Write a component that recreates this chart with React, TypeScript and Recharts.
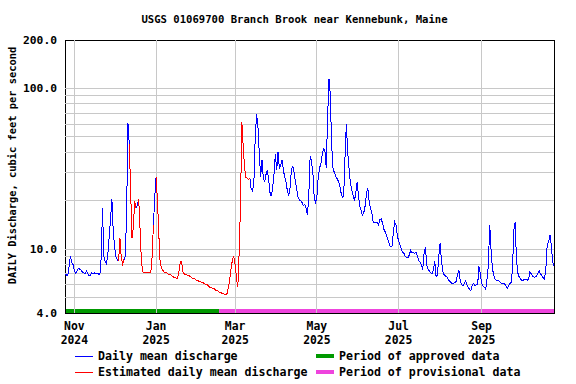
import React from 'react';
import { LineChart, Line, XAxis, YAxis, ReferenceLine, ReferenceArea } from 'recharts';

// daily mean discharge, cfs, day 0 = Oct 25 2024
const dischargeCfs = [
  7.0, 6.9, 6.8, 7.7, 9.1, 8.2, 8.0, 7.3, 7.1, 7.3,
  7.6, 7.5, 7.4, 7.2, 7.1, 7.0, 7.3, 7.0, 6.8, 6.9,
  7.1, 7.0, 7.1, 7.0, 7.1, 7.0, 6.9, 8.8, 18, 9.0,
  8.3, 8.1, 9.3, 12, 15.5, 20.5, 13, 10.3, 9.0, 8.6,
  8.4, 11.7, 8.8, 8.1, 8.6, 9.0, 17, 61, 45, 23,
  11.7, 13.6, 20, 18, 18.7, 20.5, 13.5, 8.5, 7.2, 7.1,
  7.1, 7.1, 7.1, 7.1, 7.1, 8.9, 14.2, 21, 28, 20.2,
  12.5, 8.3, 7.6, 7.4, 7.2, 7.1, 7.1, 7.0, 6.9, 6.9,
  6.8, 6.7, 6.7, 6.6, 6.6, 7.2, 8.3, 8.4, 7.2, 7.0,
  6.9, 6.9, 6.8, 6.8, 6.7, 6.6, 6.6, 6.5, 6.4, 6.4,
  6.3, 6.3, 6.2, 6.2, 6.1, 6.0, 6.0, 5.9, 5.8, 5.8,
  5.7, 5.7, 5.6, 5.5, 5.5, 5.4, 5.4, 5.3, 5.3, 5.2,
  5.2, 5.3, 5.8, 6.5, 7.6, 8.6, 9.0, 8.0, 6.6, 5.8,
  9.5, 19, 62, 44, 32, 28, 27.5, 27, 27.6, 23.5,
  23, 26, 50, 69, 58, 40, 28, 36, 28, 26,
  29, 31, 27, 22.5, 21.3, 24, 29, 39, 31, 40,
  32, 33, 36, 31, 28, 26, 23, 21.5, 24, 31,
  33, 30, 26, 23.5, 21, 20.2, 20, 19.4, 18.6, 19,
  18, 16.3, 22, 38, 35, 30, 21, 19.5, 21, 28,
  32, 34, 39, 42, 41, 32, 65, 115, 92, 45,
  32, 30, 28.5, 27.5, 26.5, 25, 22.5, 21, 21.5, 37,
  60, 40, 32, 26, 23.5, 21.8, 20, 22, 26, 22,
  18.5, 17.5, 16.2, 16.8, 18.5, 22, 24, 20, 18, 16.8,
  14.8, 14.6, 14.6, 14.7, 14.2, 15.2, 15.4, 14.5, 13.3, 12.8,
  12.2, 11.5, 10.8, 10.3, 10.3, 12.5, 14.8, 14.2, 12.2, 11.2,
  10.7, 10.0, 9.6, 9.4, 9.0, 8.8, 8.8, 9.2, 9.8, 9.5,
  9.5, 9.4, 9.6, 9.0, 8.5, 8.3, 8.0, 7.4, 9.4, 10.3,
  8.0, 7.5, 7.3, 7.1, 7.0, 7.4, 8.4, 6.7, 6.9, 9.0,
  10.9, 8.5, 7.3, 6.9, 6.8, 6.7, 6.5, 6.3, 6.2, 6.1,
  6.1, 6.2, 6.3, 6.9, 7.4, 6.4, 6.0, 5.9, 6.1, 6.3,
  6.0, 5.8, 5.6, 5.5, 6.0, 6.1, 5.9, 6.0, 6.0, 7.8,
  7.0, 6.1, 5.9, 5.8, 5.6, 6.5, 7.9, 14.2, 10, 7.6,
  6.9, 6.5, 6.4, 6.4, 6.3, 6.2, 6.1, 6.1, 6.1, 5.9,
  5.7, 5.9, 6.1, 6.2, 7.5, 13, 14.8, 8.5, 7.1, 6.7,
  6.5, 6.4, 6.4, 6.5, 6.5, 6.4, 6.5, 7.2, 7.0, 6.8,
  6.7, 6.7, 6.8, 7.1, 7.3, 7.0, 6.8, 6.6, 6.5, 7.8,
  10.8, 11, 12.2, 10.5, 8.4, 7.8,
];

// day spans (inclusive) whose values are estimated
const estimatedRanges: [number, number][] = [[41, 44], [49, 53], [56, 66], [69, 138]];
const approvedEndDay = 115;
const lastDay = 365;

const tickDays = [7, 68, 127, 188, 249, 311];
const tickMonths = ['Nov', 'Jan', 'Mar', 'May', 'Jul', 'Sep'];
const tickYears = ['2024', '2025', '2025', '2025', '2025', '2025'];
const yTicks = [4, 10, 100, 200];
const yGrid = [5, 6, 7, 8, 9, 10, 20, 30, 40, 50, 60, 70, 80, 90, 100];

const FONT = '"DejaVu Sans Mono", "Liberation Mono", monospace';
const BAR_TOP = 4.24; // thickness of the approval status strip

const isEst = (d: number) => estimatedRanges.some(([a, b]) => d >= a && d <= b);

const data = dischargeCfs.map((v, day) => {
  const estHere = isEst(day);
  const estNext = isEst(day + 1);
  return {
    day,
    daily: !estHere || !estNext ? v : null,
    estimated: estHere || estNext ? v : null,
  };
});

function MonthTick(props: any) {
  const { x, y, payload } = props;
  const i = tickDays.indexOf(payload.value);
  return (
    <text x={x} y={y} textAnchor="middle" fontFamily={FONT} fontWeight="bold" fontSize={11.4} fill="#000">
      <tspan x={x} dy={17}>{tickMonths[i]}</tspan>
      <tspan x={x} dy={13.5}>{tickYears[i]}</tspan>
    </text>
  );
}

function ValueTick(props: any) {
  const { x, y, payload } = props;
  return (
    <text x={x} y={y + 4} textAnchor="end" fontFamily={FONT} fontWeight="bold" fontSize={11.3} fill="#000">
      {payload.value.toFixed(1)}
    </text>
  );
}

export default function App() {
  const legendText = { fontFamily: FONT, fontWeight: 'bold' as const, fontSize: 11.6, fill: '#000' };
  return (
    <div style={{ position: 'absolute', left: 0, top: 0, width: 576, height: 384, background: '#fff' }}>
      <LineChart width={576} height={384} data={data} margin={{ top: 40, right: 22, bottom: 41, left: 0 }}>
        <XAxis
          dataKey="day"
          type="number"
          domain={[0, lastDay]}
          ticks={tickDays}
          interval={0}
          tick={<MonthTick />}
          tickLine={false}
          axisLine={false}
          tickSize={0}
          tickMargin={0}
          height={30}
          allowDataOverflow
        />
        <YAxis
          type="number"
          scale="log"
          domain={[4, 200]}
          ticks={yTicks}
          interval={0}
          tick={<ValueTick />}
          tickLine={false}
          axisLine={false}
          tickSize={0}
          tickMargin={8}
          width={65}
          allowDataOverflow
        />
        {yGrid.map(v => (
          <ReferenceLine key={'h' + v} y={v} stroke="#c8c8c8" strokeWidth={1} shapeRendering="crispEdges" />
        ))}
        {tickDays.map(d => (
          <ReferenceLine key={'v' + d} x={d} stroke="#c8c8c8" strokeWidth={1} shapeRendering="crispEdges" />
        ))}
        <Line
          type="linear"
          dataKey="daily"
          stroke="#0000ff"
          strokeWidth={1}
          dot={false}
          connectNulls={false}
          shapeRendering="crispEdges"
          isAnimationActive={false}
        />
        <Line
          type="linear"
          dataKey="estimated"
          stroke="#ff0000"
          strokeWidth={1}
          dot={false}
          connectNulls={false}
          shapeRendering="crispEdges"
          isAnimationActive={false}
        />
        <ReferenceArea x1={0} x2={approvedEndDay} y1={4} y2={BAR_TOP} fill="#009900" fillOpacity={1} stroke="none" />
        <ReferenceArea x1={approvedEndDay} x2={lastDay} y1={4} y2={BAR_TOP} fill="#ee44dd" fillOpacity={1} stroke="none" />
        <ReferenceArea x1={0} x2={lastDay} y1={4} y2={200} fill="none" stroke="#000" strokeWidth={1} shapeRendering="crispEdges" />
      </LineChart>
      <svg width={576} height={384} style={{ position: 'absolute', left: 0, top: 0, pointerEvents: 'none' }}>
        <text x={294.5} y={23} textAnchor="middle" fontFamily={FONT} fontWeight="bold" fontSize={10.6} fill="#000">
          USGS 01069700 Branch Brook near Kennebunk, Maine
        </text>
        <text
          transform="translate(16,165.5) rotate(-90)"
          textAnchor="middle"
          fontFamily={FONT}
          fontWeight="bold"
          fontSize={10.4}
          fill="#000"
        >
          DAILY Discharge, cubic feet per second
        </text>
        <line x1={75} x2={93} y1={356.5} y2={356.5} stroke="#0000ff" strokeWidth={1} />
        <text x={98} y={360} {...legendText}>Daily mean discharge</text>
        <line x1={75} x2={93} y1={372.5} y2={372.5} stroke="#ff0000" strokeWidth={1} />
        <text x={98} y={376} {...legendText}>Estimated daily mean discharge</text>
        <line x1={316} x2={334} y1={356} y2={356} stroke="#009900" strokeWidth={4} />
        <text x={339} y={360} {...legendText}>Period of approved data</text>
        <line x1={316} x2={334} y1={372} y2={372} stroke="#ee44dd" strokeWidth={4} />
        <text x={339} y={376} {...legendText}>Period of provisional data</text>
      </svg>
    </div>
  );
}
